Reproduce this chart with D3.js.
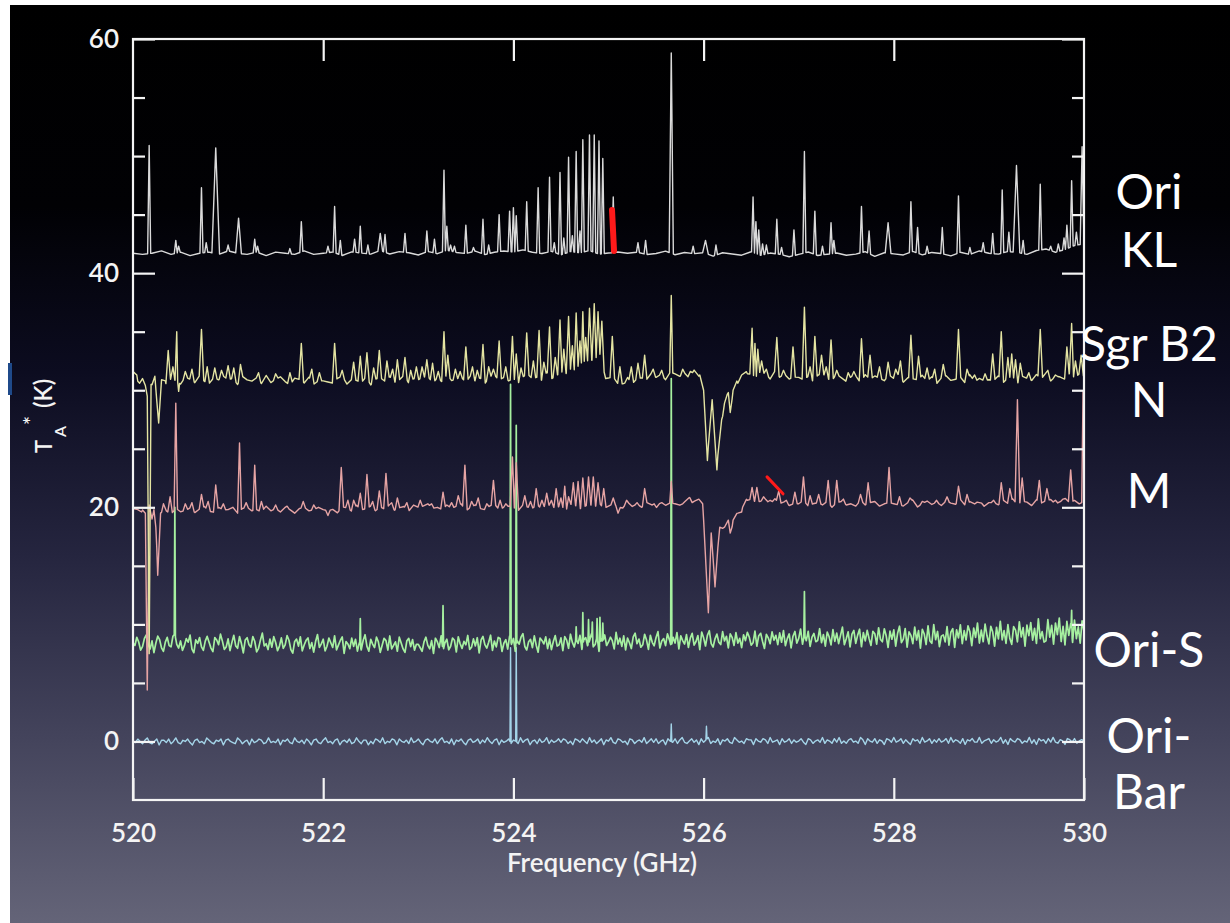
<!DOCTYPE html>
<html>
<head>
<meta charset="utf-8">
<script src="https://cdnjs.cloudflare.com/ajax/libs/d3/7.8.5/d3.min.js"></script>
<style>
  html, body { margin: 0; padding: 0; background: #ffffff; }
  svg { display: block; }
</style>
</head>
<body>
<svg id="chart" width="1230" height="923"></svg>
<script>
// ---------------- axes ----------------
const freqDomain = [520, 530];
const tempDomain = [-5, 60];
const freqTicks = [520, 522, 524, 526, 528, 530];
const freqInnerTicks = [522, 524, 526, 528];
const tempTicks = [0, 20, 40, 60];
const tempMinorTicks = [5, 10, 15, 25, 30, 35, 45, 50, 55];
const xTitle = "Frequency (GHz)";

// ---------------- spectra ----------------
// Each source: a broad continuum (shape), a channel ripple (0.1 K units on a uniform grid)
// and a list of lines [freq GHz, peak T (K), optional half width GHz].

// Ori KL
const klShape = [[520,41.7],[522,41.7],[524,41.8],[525.2,41.7],[527,41.6],[529,41.7],[529.75,41.9],[530,42.5]];
const klRippleStep = 0.1;
const klRipple = [
  1,-1,0,2,-1,1,-2,0,1,-1,2,0,-1,1,-2,1,0,-1,2,-1,
  0,1,-2,1,0,-1,2,-1,1,0,-2,1,-1,2,0,-1,1,-2,0,1,
  -1,2,0,-1,1,-2,1,0,2,-1,0,1,-2,1,-1,0,2,-1,1,0,
  1,-2,1,0,-1,2,-1,1,0,-2,1,2,-1,0,1,-1,0,2,-2,1,
  0,-1,2,-1,1,0,-2,1,-1,2,0,-1,1,0,-2,1,2,-1,0,1];
const klLines = [
  [520.17,50.9],[520.45,42.8],[520.48,42.3],[520.72,47.3],[520.77,42.6],[520.87,50.7,0.04],
  [521.00,42.4],[521.11,44.7,0.03],[521.28,42.9],[521.31,42.3],[521.65,42.1],[521.77,44.4],
  [522.05,42.3],[522.12,45.7],[522.18,42.8],[522.33,42.9],[522.39,44.0],[522.47,42.4],
  [522.60,43.4,0.025],[522.65,43.3],[522.86,43.4],[523.09,43.6],[523.17,42.9],[523.27,48.8],
  [523.30,44.0],[523.34,42.4],[523.38,42.3],[523.50,44.1],[523.58,42.2],[523.68,44.6],
  [523.74,42.4],[523.85,45.0],[523.96,45.3],[524.00,45.6],[524.03,44.9],[524.14,46.1],
  [524.26,47.3],[524.38,48.2],[524.43,42.6],[524.49,48.6],[524.53,43.0],[524.58,49.9],
  [524.62,43.2],[524.66,50.4],[524.70,43.6],[524.73,51.4],[524.80,51.8],[524.85,51.8],
  [524.90,51.3],[524.94,49.8],[525.05,46.5],[525.31,42.6],[525.39,42.8],[525.66,58.8,0.022],
  [525.89,42.3],[526.02,42.8,0.03],[526.13,42.4],[526.52,46.5],[526.55,44.4],[526.58,43.7],
  [526.62,42.5],[526.66,42.4],[526.77,44.6],[526.82,42.2],[526.95,43.7],[527.06,50.4],
  [527.17,45.3],[527.25,42.3],[527.34,44.3],[527.37,42.8],[527.66,45.7],[527.74,43.6],
  [527.94,44.3,0.03],[528.18,46.1],[528.25,43.9],[528.35,42.3],[528.51,43.9],[528.68,46.6],
  [528.80,42.2],[528.94,42.6],[529.04,43.4],[529.14,47.1],[529.21,43.5],[529.29,49.2,0.035],
  [529.36,42.8],[529.54,47.6],[529.65,42.3],[529.73,42.5],[529.79,43.0],[529.82,44.1],
  [529.87,47.9],[529.92,43.5],[529.98,50.8,0.02]];

// Sgr B2 N
const nShape = [[520.00,31.6],[520.04,31.3],[520.07,30.6],[520.10,31.0],[520.13,30.4],[520.15,29.5],
  [520.17,7.5],[520.19,30.5],[520.23,31.2],[520.27,27.2],[520.30,30.9],[520.34,30.8],[521.0,30.9],
  [522.0,30.8],[523.0,30.9],[524.0,31.0],[524.45,31.2],[524.6,31.8],[524.75,32.5],[524.93,33.0],
  [524.97,31.0],[525.17,30.6],[525.3,31.0],[525.7,31.4],[525.96,31.3],[526.00,30.0],[526.04,24.0],
  [526.09,29.2],[526.14,23.2],[526.19,27.5],[526.22,28.9],[526.26,29.8],[526.28,28.1],[526.31,30.0],
  [526.36,30.6],[526.40,31.3],[526.46,31.4],[527.0,31.1],[528.0,31.0],[529.0,30.9],[530.0,31.2]];
const nRippleStep = 0.05;
const nRipple = [
  2,-3,1,4,-2,-1,3,-4,2,0,-3,3,1,-2,4,-1,-3,2,0,3,
  -2,1,-4,3,0,-1,2,-3,4,-2,1,3,-1,-4,2,1,-2,3,-3,0,
  3,-1,-2,2,4,-3,1,0,-2,3,-4,1,2,-1,3,-2,0,4,-3,1,
  -1,2,3,-3,1,-2,4,-1,0,2,-3,3,-2,1,-4,2,3,-1,1,-2,
  2,-4,1,3,-1,0,-3,4,-2,1,2,-2,3,-3,0,4,-1,-2,2,-3,
  1,3,-2,-1,4,-3,2,0,-2,3,-1,1,-4,2,3,-2,1,-3,4,-1,
  -3,2,0,4,-2,1,-1,3,-4,2,0,-2,3,1,-3,4,-1,2,-2,0,
  3,-2,1,-3,2,4,-1,-2,3,0,-3,1,2,-4,3,-1,2,0,-2,3,
  -2,4,-3,1,0,-1,3,-2,2,-4,1,3,-1,0,2,-3,4,-2,1,-1,
  2,-1,3,-3,1,2,-4,2,0,-2,3,-1,4,-3,1,0,-2,3,-1,2];
const nLines = [
  [520.37,33.4],[520.42,32.0],[520.46,35.0,0.018],[520.48,29.9,0.01],[520.55,31.6],[520.62,31.8],
  [520.72,35.2],[520.78,32.0],[520.86,31.9],[520.93,31.7],[521.00,32.1],[521.06,31.9],[521.13,32.2],
  [521.32,31.5],[521.50,31.4],[521.65,31.5],[521.77,34.0],[521.88,31.8],[521.96,31.5],[522.12,34.0],
  [522.20,31.7],[522.32,32.4],[522.39,32.9],[522.46,33.2],[522.53,31.9],[522.59,33.4],[522.67,32.5],
  [522.73,31.8],[522.78,32.6],[522.86,32.8],[522.92,31.7],[522.98,32.0],[523.04,32.0],[523.09,32.6],
  [523.15,32.3],[523.21,31.6],[523.27,35.0],[523.31,33.0],[523.39,31.8],[523.44,31.6],[523.50,33.7],
  [523.57,32.0],[523.62,31.7],[523.68,33.9],[523.74,32.0],[523.79,31.8],[523.85,34.2],[523.92,32.0],
  [523.99,34.6],[524.03,33.1],[524.08,31.9],[524.14,34.9],[524.21,32.5],[524.27,35.1],[524.32,32.4],
  [524.38,35.4],[524.44,32.8],[524.49,36.0],[524.53,33.5],[524.58,36.3],[524.62,33.8],[524.66,36.6],
  [524.70,34.2],[524.73,36.7],[524.76,34.5],[524.80,37.0],[524.85,37.4],[524.89,36.7],[524.93,35.9],
  [525.04,34.6],[525.12,32.0],[525.24,32.0],[525.31,32.3],[525.38,33.0],[525.47,31.8],[525.56,31.7],
  [525.66,38.1,0.016],[525.78,31.8],[525.86,31.6],
  [526.51,35.3],[526.54,34.0],[526.57,33.5],[526.61,32.5],[526.66,31.8],[526.77,34.5],[526.84,31.7],
  [526.94,33.7],[527.06,37.1],[527.12,32.0],[527.17,34.6],[527.24,33.0],[527.29,32.0],[527.34,34.3],
  [527.40,31.7],[527.52,31.5],[527.58,31.6],[527.66,34.4],[527.75,33.0],[527.85,32.0],[527.94,32.4],
  [528.02,31.8],[528.07,32.5],[528.18,34.7],[528.26,32.9],[528.35,31.9],[528.43,31.8],[528.52,32.2],
  [528.68,35.2],[528.77,31.8],[528.85,31.3],[528.96,31.4],[529.04,33.1],[529.13,35.0],[529.20,32.8],
  [529.24,33.1],[529.28,32.6],[529.33,32.3],[529.42,31.5],[529.54,35.2],[529.62,31.7],[529.70,31.3],
  [529.82,33.7],[529.87,35.7],[529.91,32.5],[529.97,33.0]];

// Sgr B2 M
const mShape = [[520.00,19.9],[520.05,19.8],[520.09,19.6],[520.13,19.5],[520.15,4.4],[520.17,20.2],
  [520.20,19.0],[520.22,19.8],[520.24,18.3],[520.26,14.2],[520.29,19.5],[520.32,20.3],[520.35,19.7],
  [521.0,19.8],[522.0,19.8],[523.0,20.0],[524.0,20.0],[525.0,20.1],[525.7,20.3],[525.95,20.7],
  [525.99,20.3],[526.05,11.0],[526.08,17.8],[526.12,13.2],[526.17,18.3],[526.22,18.3],[526.26,18.9],
  [526.28,17.8],[526.31,18.9],[526.36,19.5],[526.41,20.0],[526.46,20.6],[527.0,20.3],[528.0,20.3],
  [529.0,20.4],[530.0,20.5]];
const mRippleStep = 0.05;
const mRipple = [
  1,-2,2,-1,0,3,-2,1,-3,2,-1,0,2,-2,1,3,-1,-2,2,0,
  -1,2,-3,1,2,-1,0,-2,3,-1,1,-2,2,0,-3,1,2,-1,0,2,
  2,-1,0,-3,2,1,-2,3,-1,0,2,-2,1,-1,3,-2,0,1,-3,2,
  -2,1,3,-1,0,-2,2,-1,1,3,-3,0,2,-1,-2,1,3,-2,0,1,
  1,-3,2,0,-1,2,-2,3,0,-1,1,-3,2,1,-2,0,2,-1,3,-2,
  0,2,-1,-2,3,-1,1,-2,2,0,-3,2,-1,1,2,-2,0,3,-1,-2,
  2,-2,1,3,-1,0,-2,1,-3,2,1,-1,0,2,-2,3,-1,1,-2,0,
  -1,3,-2,0,1,-1,2,-3,1,2,-1,0,-2,3,-1,1,2,-2,0,1,
  2,-1,-2,1,3,-3,0,2,-1,1,-2,2,0,-1,3,-2,1,-1,2,-3,
  1,0,-2,2,-1,3,-2,1,0,-3,2,-1,1,2,-2,0,3,-1,1,-2];
const mLines = [
  [520.39,20.9],[520.45,28.9,0.018],[520.55,20.3],[520.62,20.4],[520.72,21.1],[520.79,20.5],
  [520.87,21.9],[520.95,20.3],[521.12,25.5,0.02],[521.19,20.4],[521.28,23.6,0.02],[521.35,20.5],
  [521.50,20.2],[521.62,20.1],[521.79,20.5],[521.90,20.2],[522.05,19.3],[522.19,23.4],[522.26,20.6],
  [522.32,20.6],[522.39,21.2],[522.46,22.8],[522.52,20.5],[522.59,21.4],[522.66,22.9],[522.72,20.4],
  [522.78,20.8],[522.88,20.4],[523.02,20.6],[523.14,20.3],[523.26,21.3],[523.35,20.4],[523.42,21.0],
  [523.49,23.6],[523.56,20.5],[523.63,20.8],[523.72,20.3],[523.79,22.3],[523.86,20.6],[523.92,20.3],
  [523.99,24.3],[524.03,23.8],[524.12,21.0],[524.18,20.5],[524.24,21.6],[524.30,20.6],[524.35,21.2],
  [524.40,20.6],[524.45,21.6],[524.50,20.8],[524.54,21.8],[524.58,20.9],[524.63,22.1],[524.68,22.2],
  [524.73,22.5],[524.79,22.6],[524.84,22.6],[524.89,22.1],[524.95,21.6],[525.05,20.8],[525.10,19.5],
  [525.19,20.6],[525.30,20.4],[525.38,21.6],[525.48,20.3],[525.56,20.4],[525.66,22.2,0.016],
  [525.78,20.3],[525.88,20.4],
  [526.51,21.7],[526.56,21.7],[526.63,20.9],[526.70,20.6],[526.79,21.4],[526.87,20.6],[526.96,21.3],
  [527.05,22.6],[527.12,21.0],[527.21,21.1],[527.31,22.3],[527.40,22.3],[527.47,20.7],[527.65,21.1],
  [527.73,22.1],[527.95,23.4],[528.06,20.9],[528.17,20.8],[528.30,20.5],[528.45,20.6],[528.56,20.9],
  [528.68,21.8],[528.77,21.1],[528.90,20.4],[529.05,20.6],[529.13,22.1],[529.22,21.6],
  [529.30,29.2,0.025],[529.35,22.5],[529.53,22.3],[529.61,21.6],[529.70,20.6],[529.78,20.7],
  [529.86,23.2],[529.99,29.9,0.014]];

// Ori-S
const sShape = [[520,8.4],[523,8.3],[525,8.5],[527,8.8],[528.5,9.0],[530,9.4]];
const sRippleStep = 0.02;
const sRipple = [
  3,-2,5,1,-6,-3,4,7,-1,-5,2,-8,0,6,3,-4,-7,1,5,-2,
  -3,6,8,-1,-4,2,-6,-2,4,1,7,-5,-8,3,0,5,-3,-6,2,6,
  1,-4,-7,5,3,-1,8,2,-5,-3,4,-6,1,7,-2,-4,6,0,-8,3,
  5,-1,-3,6,2,-7,-4,3,9,-2,0,-5,4,-3,6,1,-6,-2,5,-4,
  -1,7,3,-5,-8,2,4,-2,6,-6,-1,3,5,-4,1,-7,2,8,-3,0,
  4,-6,-2,5,1,-3,7,-5,-1,3,6,-8,2,0,-4,5,-2,4,-6,1,
  -5,3,8,-2,-6,4,0,-3,6,2,-7,-1,5,3,-5,7,-4,-1,2,-6,
  6,1,-4,-7,3,5,-2,4,-5,0,8,-3,-6,2,6,-1,-4,3,-8,5,
  2,-3,7,-6,1,4,-5,-2,5,3,-7,6,0,-4,2,-1,7,-5,-3,4,
  -2,5,-8,3,6,-1,-4,1,7,-6,2,-3,5,4,-7,0,3,-5,6,-1,
  4,-7,2,-1,5,8,-3,-6,1,3,-4,6,-2,-8,4,2,-1,5,-5,3,
  -6,1,6,-3,-2,4,-7,5,2,-5,7,0,-4,3,-1,6,-6,2,4,-3,
  1,7,-4,-2,5,-8,3,0,6,-3,-5,4,1,-6,8,-2,3,-4,5,-7,
  3,-1,-6,4,7,-2,2,-5,-3,6,1,-7,5,-1,-4,3,8,-6,0,2,
  -4,6,1,-5,3,-2,7,-7,4,0,-3,5,-6,2,6,-4,-1,4,-8,7,
  2,-5,4,8,-3,-6,1,5,-2,-4,7,-1,3,-7,5,2,-5,6,-3,1,
  -7,4,-1,6,2,-5,-3,7,-6,3,5,-2,-8,4,1,-4,6,-1,3,-5,
  5,-3,7,-6,0,4,-8,2,6,-4,-1,8,-5,3,-2,6,-7,1,4,-3,
  -2,8,-4,3,-7,5,1,-6,7,-3,4,-5,2,9,-6,-1,5,-8,3,6,
  -5,2,7,-8,4,-3,6,-1,-7,5,3,-6,8,-2,-4,7,1,-9,5,-2,
  6,-8,3,9,-5,-2,7,-9,4,1,-6,8,-3,5,-10,6,2,-7,9,-4,
  -6,10,-3,4,-9,7,1,-5,8,-8,3,6,-10,5,-2,9,-7,4,-4,8,
  3,-9,6,-2,10,-7,4,-6,9,-1,-8,7,2,-10,6,-4,11,-5,3,-8,
  8,-4,-9,6,3,-7,10,-3,5,-11,7,-2,9,-6,4,-9,12,-5,1,-8,
  -7,11,-4,6,-10,8,-2,12,-8,5,-11,9,-3,7,-9,10,-6,4,-10,9];
const sLines = [[520.44,20.0],[522.39,10.5],[523.26,11.6],[523.97,30.5],[524.03,27.0],[524.66,9.8],
  [524.73,11.0],[524.79,10.4],[524.83,10.2],[524.88,10.5],[524.91,10.6],[524.94,10.1],
  [525.66,31.0],[527.06,12.8],[529.87,11.2]];

// Ori-Bar
const barShape = [[520,0.0],[530,0.05]];
const barRippleStep = 0.025;
const barRipple = [
  1,-1,2,0,-2,1,3,-1,-2,0,2,-3,1,1,-1,2,-2,0,3,-1,
  -2,1,0,2,-1,-3,1,2,-1,0,-2,3,1,-1,-2,1,0,2,-3,1,
  2,0,-1,-2,3,1,-2,0,1,-3,2,-1,0,2,1,-2,-1,3,-1,0,
  -1,2,-3,1,0,2,-1,-2,3,0,-1,1,-2,2,0,-3,1,2,-1,-2,
  1,3,-1,0,-2,1,2,-3,0,1,-1,2,-2,-1,3,0,-2,1,1,-3,
  0,-2,2,1,-1,3,-2,0,-1,2,1,-3,2,0,-1,1,-2,3,-1,0,
  2,-1,-3,1,2,0,-1,2,-2,1,3,-1,0,-2,2,-3,1,0,2,-1,
  -3,1,2,-1,0,2,-2,1,-1,3,0,-2,1,2,-3,1,-1,0,2,-2,
  1,0,-2,3,-1,1,2,-3,0,1,-2,2,-1,0,3,-2,1,-1,0,2,
  -1,2,1,-2,0,-3,2,1,-1,2,0,-2,3,-1,1,-2,0,2,-3,1,
  0,3,-1,-2,2,1,-1,0,-3,2,1,-2,0,1,-1,3,-2,0,2,-1,
  2,-2,0,1,-3,2,0,-1,2,-2,1,3,-1,-2,0,2,-1,1,-3,2,
  -1,1,3,-2,0,-1,2,-3,1,0,2,-1,-2,3,1,-1,0,-2,2,1,
  1,-3,2,0,-1,2,1,-2,3,-1,0,1,-3,2,-1,0,2,-2,1,-1,
  0,2,-1,-3,2,1,-2,0,1,-1,3,-2,1,0,-2,2,-1,3,-2,0,
  -2,1,2,-1,0,-2,3,1,-3,2,0,-1,2,-2,1,0,-3,2,1,-1,
  3,-1,0,2,-2,1,-1,-3,2,0,1,-2,3,-1,0,2,-2,1,-1,2,
  -1,0,2,-2,3,-1,1,0,-2,2,-3,1,0,2,-1,-1,3,-2,0,1,
  2,-2,1,-1,0,3,-2,1,-3,2,0,-1,2,1,-2,0,-1,3,-2,1,
  -3,2,0,1,-2,2,-1,3,-1,-2,1,0,-3,2,1,-1,2,-2,0,1];
const barLines = [[523.97,8.0],[524.03,8.0],[525.66,1.5],[526.03,1.3]];

// source labels at the right edge, placed on the temperature scale
const sourceLabels = ["Ori", "KL", "Sgr B2", "N", "M", "Ori-S", "Ori-", "Bar"];
const sourceLabelTemps = [45.5, 40.5, 32.5, 27.7, 19.9, 6.4, -0.95, -5.8];

// red highlight strokes: [[f0, T0], [f1, T1]]
const highlightThick = [[525.037, 45.4], [525.058, 41.9]];
const highlightThin = [[526.667, 22.6], [526.835, 21.15]];

// ---------------- drawing ----------------
const W = 1230, H = 923;
const plot = { left: 133, right: 1084, top: 39, bottom: 800 };
const svg = d3.select("#chart");
const fontFamily = "Lato, 'Open Sans', 'DejaVu Sans', sans-serif";

const defs = svg.append("defs");
const grad = defs.append("linearGradient").attr("id", "bg").attr("x1", 0).attr("y1", 0).attr("x2", 0).attr("y2", 1);
[[0, "#000000"], [0.22, "#010104"], [0.4, "#0c0c20"], [0.6, "#25253f"], [0.8, "#44445c"], [1, "#646478"]]
  .forEach(([o, c]) => grad.append("stop").attr("offset", o).attr("stop-color", c));
defs.append("clipPath").attr("id", "plotClip").append("rect")
  .attr("x", plot.left).attr("y", plot.top - 30)
  .attr("width", plot.right - plot.left).attr("height", plot.bottom - plot.top + 30);

svg.append("rect").attr("x", 10).attr("y", 5).attr("width", W - 10).attr("height", H - 5).attr("fill", "url(#bg)");
svg.append("rect").attr("x", 8).attr("y", 363).attr("width", 4).attr("height", 32).attr("fill", "#1f4a8a");

const x = d3.scaleLinear().domain(freqDomain).range([plot.left, plot.right]);
const y = d3.scaleLinear().domain(tempDomain).range([plot.bottom, plot.top]);

function buildTrace(shape, ripple, step, lines, hwDefault) {
  const cont = d3.scaleLinear().domain(shape.map(d => d[0])).range(shape.map(d => d[1]));
  const base = shape.map(d => [d[0], d[1]]);
  ripple.forEach((r, i) => {
    const f = freqDomain[0] + i * step;
    if (!shape.some(s => Math.abs(s[0] - f) < 1e-6)) base.push([f, cont(f) + r / 10]);
  });
  base.sort((a, b) => a[0] - b[0]);
  const baseScale = d3.scaleLinear().domain(base.map(d => d[0])).range(base.map(d => d[1]));
  const sorted = lines.slice().sort((a, b) => a[0] - b[0]);
  const pts = [], spans = [];
  sorted.forEach((ln, i) => {
    const hw = ln[2] || hwDefault;
    let lo = ln[0] - hw, hi = ln[0] + hw;
    if (i > 0) lo = Math.max(lo, (sorted[i - 1][0] + ln[0]) / 2);
    if (i < sorted.length - 1) hi = Math.min(hi, (sorted[i + 1][0] + ln[0]) / 2);
    pts.push([lo, baseScale(lo)], [ln[0], ln[1]], [hi, baseScale(hi)]);
    spans.push([lo, hi]);
  });
  base.forEach(p => { if (!spans.some(s => p[0] > s[0] && p[0] < s[1])) pts.push(p); });
  pts.sort((a, b) => a[0] - b[0]);
  return pts;
}

const series = [
  { name: "Ori-Bar", color: "#a4d4e8", width: 1.4, pts: buildTrace(barShape, barRipple, barRippleStep, barLines, 0.006) },
  { name: "Ori-S", color: "#a6f0a0", width: 1.7, pts: buildTrace(sShape, sRipple, sRippleStep, sLines, 0.006) },
  { name: "Sgr B2 M", color: "#e6a4a4", width: 1.4, pts: buildTrace(mShape, mRipple, mRippleStep, mLines, 0.024) },
  { name: "Sgr B2 N", color: "#e4e4a2", width: 1.4, pts: buildTrace(nShape, nRipple, nRippleStep, nLines, 0.024) },
  { name: "Ori KL", color: "#dadada", width: 1.4, pts: buildTrace(klShape, klRipple, klRippleStep, klLines, 0.016) }
];

const line = d3.line().x(d => x(d[0])).y(d => y(d[1]));
svg.append("g").attr("clip-path", "url(#plotClip)")
  .selectAll("path").data(series).join("path")
  .attr("d", d => line(d.pts))
  .attr("fill", "none")
  .attr("stroke", d => d.color)
  .attr("stroke-width", d => d.width)
  .attr("stroke-linejoin", "round");

// frame and ticks
const axisColor = "#f4f4f4";
svg.append("rect")
  .attr("x", plot.left).attr("y", plot.top)
  .attr("width", plot.right - plot.left).attr("height", plot.bottom - plot.top)
  .attr("fill", "none").attr("stroke", axisColor).attr("stroke-width", 2.2);

function styleAxis(g) {
  g.select(".domain").remove();
  g.selectAll(".tick line").attr("stroke", axisColor).attr("stroke-width", 2.2);
  g.selectAll(".tick text").attr("fill", axisColor).attr("font-family", fontFamily)
    .attr("font-size", 26).attr("font-weight", 600);
}

svg.append("g").attr("transform", `translate(0,${plot.bottom})`)
  .call(d3.axisBottom(x).tickValues(freqTicks).tickSizeInner(-22).tickSizeOuter(0).tickPadding(24).tickFormat(d3.format("d")))
  .call(styleAxis);
svg.append("g").attr("transform", `translate(0,${plot.top})`)
  .call(d3.axisTop(x).tickValues(freqInnerTicks).tickSizeInner(-22).tickSizeOuter(0).tickFormat(""))
  .call(styleAxis);
svg.append("g").attr("transform", `translate(${plot.left},0)`)
  .call(d3.axisLeft(y).tickValues(tempTicks).tickSizeInner(-22).tickSizeOuter(0).tickPadding(14).tickFormat(d3.format("d")))
  .call(styleAxis);
svg.append("g").attr("transform", `translate(${plot.left},0)`)
  .call(d3.axisLeft(y).tickValues(tempMinorTicks).tickSizeInner(-12).tickSizeOuter(0).tickFormat(""))
  .call(styleAxis);
svg.append("g").attr("transform", `translate(${plot.right},0)`)
  .call(d3.axisRight(y).tickValues(tempTicks).tickSizeInner(-22).tickSizeOuter(0).tickFormat(""))
  .call(styleAxis);
svg.append("g").attr("transform", `translate(${plot.right},0)`)
  .call(d3.axisRight(y).tickValues(tempMinorTicks).tickSizeInner(-12).tickSizeOuter(0).tickFormat(""))
  .call(styleAxis);

// axis titles
svg.append("text").attr("x", 602).attr("y", 872).attr("text-anchor", "middle")
  .attr("fill", axisColor).attr("font-family", fontFamily).attr("font-size", 26)
  .attr("font-weight", 600).text(xTitle);

const yt = svg.append("g").attr("transform", "translate(52,453) rotate(-90)")
  .attr("fill", axisColor).attr("font-family", fontFamily).attr("font-weight", 600);
yt.append("text").attr("x", 0).attr("y", 0).attr("font-size", 22).text("T");
yt.append("text").attr("x", 16).attr("y", 14).attr("font-size", 16).text("A");
yt.append("text").attr("x", 28).attr("y", -13).attr("font-size", 21).text("*");
yt.append("text").attr("x", 45).attr("y", 0).attr("font-size", 24).text("(K)");

// source labels
svg.append("g").selectAll("text").data(sourceLabels).join("text")
  .attr("x", 1149)
  .attr("y", (d, i) => y(sourceLabelTemps[i]))
  .attr("text-anchor", "middle")
  .attr("fill", "#ffffff")
  .attr("font-family", fontFamily)
  .attr("font-size", 48)
  .text(d => d);

// red highlight strokes
const hl = d3.line().x(d => x(d[0])).y(d => y(d[1]));
svg.append("path").attr("d", hl(highlightThick)).attr("fill", "none")
  .attr("stroke", "#ff1a1a").attr("stroke-width", 6).attr("stroke-linecap", "round");
svg.append("path").attr("d", hl(highlightThin)).attr("fill", "none")
  .attr("stroke", "#ff1a1a").attr("stroke-width", 3).attr("stroke-linecap", "round");
</script>
</body>
</html>
